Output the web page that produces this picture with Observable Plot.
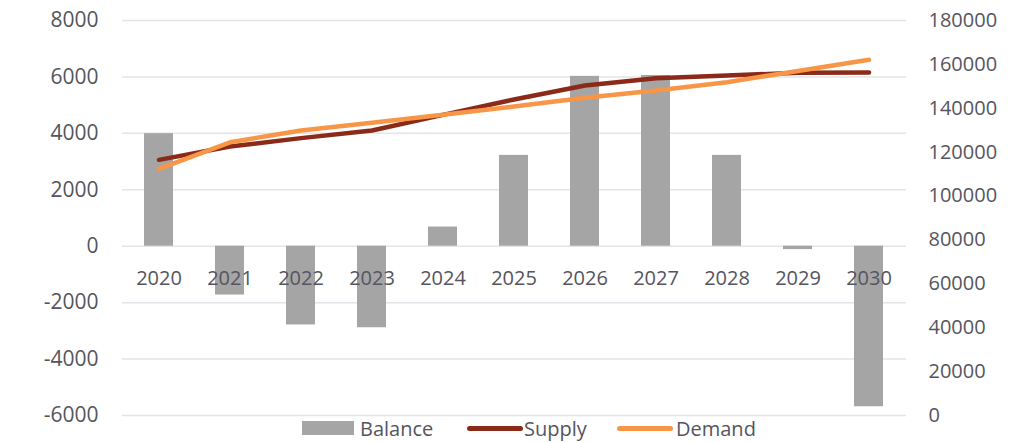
<!DOCTYPE html>
<html>
<head>
<meta charset="utf-8">
<script src="https://cdn.jsdelivr.net/npm/d3@7"></script>
<script src="https://cdn.jsdelivr.net/npm/@observablehq/plot@0.6"></script>
<style>
  html, body { margin: 0; padding: 0; background: #fff; }
  body { width: 1033px; height: 442px; overflow: hidden; position: relative; font-family: "Open Sans", sans-serif; }
  #chart { position: absolute; left: 0; top: 0; }
  #legend { position: absolute; left: 0; top: 419px; width: 1033px; height: 23px; font-size: 20px; color: #555560; }
  .item { position: absolute; top: 0; height: 23px; line-height: 23px; white-space: nowrap; }
  .sw { position: absolute; }
</style>
</head>
<body>
<div id="chart"></div>
<div id="legend"></div>
<script>
const years = ["2020","2021","2022","2023","2024","2025","2026","2027","2028","2029","2030"];
const balance = [3990, -1730, -2790, -2890, 680, 3220, 6020, 6050, 3220, -120, -5690];
const supply = [116500, 122600, 126400, 129900, 137000, 144000, 150400, 153700, 154900, 156200, 156300];
const demand = [112400, 124500, 129900, 133400, 137000, 140800, 144800, 148100, 151900, 157000, 162100];
const leftTicks = [-6000, -4000, -2000, 0, 2000, 4000, 6000, 8000];
const rightTicks = [0, 20000, 40000, 60000, 80000, 100000, 120000, 140000, 160000, 180000];
const seriesNames = ["Balance", "Supply", "Demand"];
const colors = {Balance: "#a5a5a5", Supply: "#8b2a18", Demand: "#f79646"};

const leftDomain = [-6000, 8000];
const rightDomain = [0, 180000];
const toLeft = d3.scaleLinear().domain(rightDomain).range(leftDomain);

const bars = years.map((y, i) => ({year: y, value: balance[i]}));
const lines = [];
years.forEach((y, i) => lines.push({year: y, series: "Supply", value: supply[i]}));
years.forEach((y, i) => lines.push({year: y, series: "Demand", value: demand[i]}));

const textColor = "#555560";

const chart = Plot.plot({
  width: 1033,
  height: 442,
  marginLeft: 122,
  marginRight: 127,
  marginTop: 20,
  marginBottom: 27,
  style: {fontFamily: "Open Sans, sans-serif", fontSize: "20px", color: textColor, background: "transparent"},
  x: {type: "band", domain: years, paddingInner: 0.59, paddingOuter: 0.295, axis: null},
  y: {domain: leftDomain, axis: null},
  marks: [
    Plot.ruleY(leftTicks, {stroke: "#e4e4ea", strokeWidth: 1.5}),
    Plot.barY(bars, {x: "year", y: "value", fill: colors.Balance}),
    Plot.axisY(leftTicks, {anchor: "left", label: null, tickSize: 0, tickPadding: 24, fontSize: 21, tickFormat: d => String(d), color: textColor}),
    Plot.axisY(rightTicks.map(t => toLeft(t)), {anchor: "right", label: null, tickSize: 0, tickPadding: 22, fontSize: 20, textAnchor: "start", tickFormat: d => String(Math.round(toLeft.invert(d))), color: textColor}),
    Plot.text(years, {x: d => d, y: 0, dy: 32, text: d => d, fontSize: 20, fill: textColor}),
    Plot.line(lines.filter(d => d.series === "Supply"), {x: "year", y: d => toLeft(d.value), stroke: colors.Supply, strokeWidth: 4.5, strokeLinecap: "round", strokeLinejoin: "round"}),
    Plot.line(lines.filter(d => d.series === "Demand"), {x: "year", y: d => toLeft(d.value), stroke: colors.Demand, strokeWidth: 4.5, strokeLinecap: "round", strokeLinejoin: "round"})
  ]
});
document.getElementById("chart").appendChild(chart);

// legend
const legend = document.getElementById("legend");
const legendPos = {Balance: {sw: 302, tx: 360}, Supply: {sw: 467, tx: 524}, Demand: {sw: 617, tx: 676}};
seriesNames.forEach(name => {
  const p = legendPos[name];
  const sw = document.createElement("div");
  sw.className = "sw";
  sw.style.left = p.sw + "px";
  if (name === "Balance") {
    sw.style.top = "2px"; sw.style.width = "52px"; sw.style.height = "14px"; sw.style.background = colors[name];
  } else {
    sw.style.top = "7px"; sw.style.width = "56px"; sw.style.height = "5px"; sw.style.borderRadius = "3px"; sw.style.background = colors[name];
  }
  legend.appendChild(sw);
  const tx = document.createElement("div");
  tx.className = "item";
  tx.style.left = p.tx + "px";
  tx.style.top = "-2px";
  tx.textContent = name;
  legend.appendChild(tx);
});
</script>
</body>
</html>
